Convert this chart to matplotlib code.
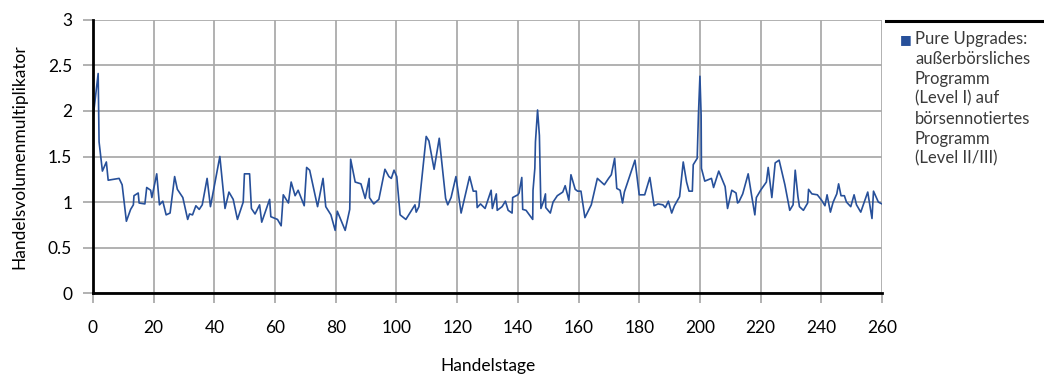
import matplotlib
matplotlib.use("Agg")
import matplotlib.pyplot as plt
from matplotlib.lines import Line2D

plt.rcParams['font.family'] = ['Lato', 'DejaVu Sans']

days = [0.0, 1.7, 2.0, 3.1, 4.4, 5.0, 8.6, 9.6, 11.0, 12.4, 13.3, 13.5, 14.9, 15.2, 17.1, 17.7,
        19.0, 19.4, 21.0, 21.9, 23.0, 24.1, 25.4, 26.9, 27.8, 29.6, 31.2, 31.8, 32.8, 33.9,
        35.0, 36.0, 37.6, 38.7, 41.8, 43.5, 44.8, 46.2, 47.6, 49.5, 49.9, 51.6, 52.2, 53.4,
        54.9, 55.6, 58.2, 58.6, 60.8, 62.0, 62.7, 64.4, 65.3, 66.6, 67.6, 69.6, 70.4, 71.4,
        74.0, 75.8, 76.7, 78.4, 79.8, 80.5, 83.1, 84.6, 84.9, 86.4, 88.3, 89.7, 91.0, 91.1,
        92.5, 94.2, 96.2, 97.5, 98.3, 99.2, 100.1, 101.2, 103.1, 106.1, 106.5, 107.4, 109.8,
        110.7, 112.4, 114.1, 116.2, 116.9, 118.0, 119.6, 121.3, 124.1, 125.3, 126.3, 126.6,
        127.7, 129.2, 131.2, 131.6, 132.9, 133.2, 134.8, 135.9, 136.8, 138.1, 138.3, 140.0,
        140.4, 141.3, 141.6, 142.7, 144.9, 145.0, 145.6, 145.8, 146.5, 147.1, 147.6, 148.5,
        149.1, 149.2, 150.7, 151.6, 153.0, 154.8, 155.6, 156.8, 157.5, 158.9, 159.7, 160.8,
        162.1, 164.2, 166.2, 168.5, 169.9, 170.8, 171.9, 172.6, 173.7, 174.5, 175.1, 178.6,
        180.0, 181.8, 183.5, 184.9, 186.2, 187.8, 188.6, 189.6, 190.7, 191.6, 193.3, 194.5,
        195.6, 196.4, 197.5, 197.8, 199.1, 199.5, 200.0, 200.4, 200.5, 201.6, 203.8, 204.5,
        206.2, 208.3, 209.1, 210.5, 211.9, 212.4, 212.8, 214.1, 215.9, 217.0, 218.1, 218.6,
        220.0, 221.9, 222.5, 223.7, 224.8, 226.1, 228.0, 229.6, 230.7, 231.4, 232.3, 232.8,
        234.1, 235.5, 235.8, 236.9, 238.7, 240.1, 241.2, 241.9, 243.0, 243.9, 245.1, 245.7,
        246.5, 247.6, 248.3, 249.7, 250.8, 251.6, 253.0, 255.3, 256.7, 257.2, 258.8, 260.0]

multiplier = [1.92, 2.41, 1.66, 1.34, 1.44, 1.24, 1.26, 1.19, 0.79, 0.92, 0.97, 1.07, 1.10, 0.99,
              0.98, 1.16, 1.13, 1.05, 1.31, 0.97, 1.01, 0.86, 0.88, 1.28, 1.14, 1.05, 0.81, 0.87,
              0.86, 0.96, 0.92, 0.97, 1.26, 0.95, 1.50, 0.93, 1.11, 1.03, 0.81, 1.00, 1.31, 1.31,
              0.93, 0.87, 0.97, 0.78, 1.03, 0.84, 0.81, 0.74, 1.08, 0.99, 1.22, 1.07, 1.13, 0.96,
              1.38, 1.35, 0.95, 1.26, 0.95, 0.86, 0.69, 0.90, 0.69, 0.92, 1.47, 1.22, 1.20, 1.04,
              1.26, 1.05, 0.98, 1.03, 1.36, 1.28, 1.26, 1.35, 1.28, 0.86, 0.81, 0.97, 0.89, 0.95,
              1.72, 1.67, 1.36, 1.70, 1.04, 0.97, 1.05, 1.28, 0.88, 1.28, 1.12, 1.12, 0.94, 0.98,
              0.93, 1.13, 0.93, 1.09, 0.91, 0.95, 1.01, 0.91, 0.88, 1.05, 1.08, 1.10, 1.27, 0.92,
              0.91, 0.81, 1.13, 1.37, 1.66, 2.01, 1.73, 0.93, 1.01, 1.09, 0.94, 0.88, 1.00, 1.07,
              1.11, 1.18, 1.02, 1.30, 1.14, 1.12, 1.12, 0.83, 0.97, 1.26, 1.19, 1.26, 1.30, 1.48,
              1.15, 1.13, 0.99, 1.11, 1.46, 1.08, 1.08, 1.27, 0.96, 0.98, 0.97, 0.94, 1.01, 0.88,
              0.96, 1.06, 1.44, 1.22, 1.12, 1.12, 1.41, 1.48, 1.95, 2.38, 1.95, 1.37, 1.23, 1.26,
              1.16, 1.34, 1.17, 0.93, 1.13, 1.10, 0.99, 1.00, 1.09, 1.31, 1.08, 0.86, 1.05, 1.13,
              1.22, 1.38, 1.05, 1.43, 1.46, 1.19, 0.91, 0.97, 1.35, 1.06, 0.95, 0.91, 0.99, 1.14,
              1.09, 1.08, 1.02, 0.96, 1.08, 0.89, 1.00, 1.09, 1.20, 1.07, 1.07, 1.00, 0.95, 1.08,
              0.97, 0.89, 1.11, 0.82, 1.12, 1.00, 0.98]

x_ticks = list(range(0, 261, 20))
y_ticks = [0, 0.5, 1, 1.5, 2, 2.5, 3]
y_tick_labels = ['0', '0.5', '1', '1.5', '2', '2.5', '3']
series_label = ("Pure Upgrades:\naußerbörsliches\nProgramm\n(Level I) auf\n"
                "börsennotiertes\nProgramm\n(Level II/III)")

W, H = 1044, 375
fig = plt.figure(figsize=(W / 100, H / 100), dpi=100)
ax = fig.add_axes([93 / W, 1 - 293.3 / H, (882 - 93) / W, (293.3 - 19.7) / H])

line_color = '#27509a'
grid_color = '#ababab'

ax.plot(days, multiplier, color=line_color, lw=1.2, zorder=3)
ax.set_xlim(0, 260)
ax.set_ylim(0, 3)
ax.set_xticks(x_ticks)
ax.set_yticks(y_ticks)
ax.set_yticklabels(y_tick_labels)
ax.grid(True, color=grid_color, lw=1.3, zorder=0)
ax.set_axisbelow(True)
for s in ['top', 'right']:
    ax.spines[s].set_visible(False)
for s in ['left', 'bottom']:
    ax.spines[s].set_color('black')
    ax.spines[s].set_linewidth(2.0)
    ax.spines[s].set_zorder(4)
ax.tick_params(axis='both', direction='out', length=7, width=1.3, color=grid_color,
               labelsize=12.5, labelcolor='black')
ax.tick_params(axis='x', pad=12)
ax.tick_params(axis='y', pad=8)

ax.set_xlabel('Handelstage', fontsize=12.5, labelpad=16)
ax.set_ylabel('Handelsvolumenmultiplikator', fontsize=12.5, labelpad=15)

# legend
fig.add_artist(Line2D([886 / W, 1.0], [1 - 21 / H, 1 - 21 / H], color='black', lw=2.2))
fig.text(906 / W, 1 - 40 / H, '\u25A0', color=line_color, fontsize=9,
         ha='center', va='center', family=['DejaVu Sans'])
fig.text(915 / W, 1 - 31 / H, series_label, fontsize=12, ha='left', va='top',
         linespacing=1.3, color='#3a3a3a')

fig.savefig('out.png', dpi=100)
